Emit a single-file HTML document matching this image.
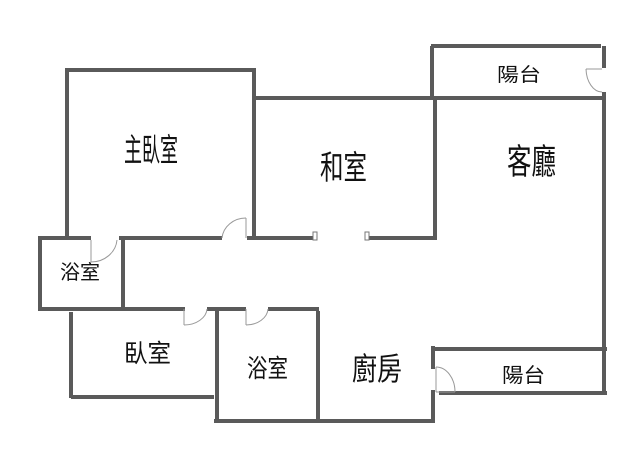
<!DOCTYPE html>
<html><head><meta charset="utf-8"><style>
html,body{margin:0;padding:0;background:#fff;}
svg{display:block;}
text{font-family:"Liberation Sans","Noto Sans CJK TC",sans-serif;fill:#111;}
</style></head><body>
<svg width="640" height="461" viewBox="0 0 640 461" xmlns="http://www.w3.org/2000/svg">
<g stroke="#5a5a5a" stroke-width="4" fill="none" stroke-linecap="square">
<line x1="433" y1="46" x2="599" y2="46"/>
<line x1="432" y1="48" x2="432" y2="98"/>
<line x1="604" y1="48" x2="604" y2="66"/>
<line x1="604" y1="94" x2="604" y2="392"/>
<line x1="254" y1="98" x2="600" y2="98"/>
<line x1="67" y1="70" x2="253" y2="70"/>
<line x1="67" y1="70" x2="67" y2="238"/>
<line x1="254" y1="70" x2="254" y2="238"/>
<line x1="435" y1="98" x2="435" y2="238"/>
<line x1="40" y1="238" x2="89" y2="238"/>
<line x1="121" y1="238" x2="220" y2="238"/>
<line x1="249" y1="238" x2="313" y2="238"/>
<line x1="369" y1="238" x2="435" y2="238"/>
<line x1="40" y1="238" x2="40" y2="309"/>
<line x1="123" y1="238" x2="123" y2="309"/>
<line x1="40" y1="309" x2="183" y2="309"/>
<line x1="209" y1="309" x2="244" y2="309"/>
<line x1="270" y1="309" x2="317" y2="309"/>
<line x1="71" y1="314" x2="71" y2="396"/>
<line x1="73" y1="397" x2="212" y2="397"/>
<line x1="217" y1="311" x2="217" y2="420"/>
<line x1="318" y1="313" x2="318" y2="420"/>
<line x1="216" y1="421" x2="433" y2="421"/>
<line x1="433" y1="348" x2="433" y2="367"/>
<line x1="433" y1="392" x2="433" y2="421"/>
<line x1="433" y1="349" x2="605" y2="349"/>
<line x1="441" y1="393" x2="605" y2="393"/>
</g>
<g stroke="#777" stroke-width="1" fill="#fff">
<rect x="313" y="232" width="4" height="8"/>
<rect x="365" y="232" width="4" height="8"/>
</g>
<g stroke="#999" stroke-width="1" fill="none">
<line x1="246" y1="218" x2="246" y2="238"/>
<path d="M246 218 A24 22 0 0 0 222 238"/>
<line x1="91" y1="240" x2="91" y2="262"/>
<path d="M91 262 A26 24 0 0 0 117 240"/>
<line x1="184" y1="309" x2="184" y2="325"/>
<path d="M184 325 A23 17 0 0 0 207 309"/>
<line x1="246" y1="309" x2="246" y2="325"/>
<path d="M246 325 A22 17 0 0 0 268 309"/>
<line x1="586" y1="69" x2="602" y2="69"/>
<path d="M586 69 A16 24 0 0 0 602 92"/>
<line x1="436" y1="367" x2="436" y2="392"/>
<path d="M436 367 A19 25 0 0 1 455 392"/>
<line x1="436" y1="392" x2="455" y2="392"/>
</g>
<text x="124" y="161" font-size="32" textLength="54" lengthAdjust="spacingAndGlyphs">主臥室</text>
<text x="320" y="179" font-size="33" textLength="47" lengthAdjust="spacingAndGlyphs">和室</text>
<text x="507" y="174" font-size="35" textLength="49" lengthAdjust="spacingAndGlyphs">客廳</text>
<text x="497" y="81" font-size="19" textLength="44" lengthAdjust="spacingAndGlyphs">陽台</text>
<text x="60" y="279" font-size="20" textLength="40" lengthAdjust="spacingAndGlyphs">浴室</text>
<text x="124" y="362" font-size="25" textLength="47" lengthAdjust="spacingAndGlyphs">臥室</text>
<text x="247" y="377" font-size="25" textLength="41" lengthAdjust="spacingAndGlyphs">浴室</text>
<text x="352" y="380" font-size="31" textLength="50" lengthAdjust="spacingAndGlyphs">廚房</text>
<text x="502" y="382" font-size="20" textLength="43" lengthAdjust="spacingAndGlyphs">陽台</text>
</svg>
</body></html>
